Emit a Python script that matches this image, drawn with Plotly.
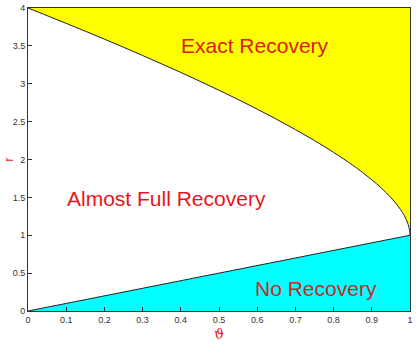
import plotly.graph_objects as go

# Upper boundary (exact recovery threshold)
theta_up = [0.0, 0.05, 0.1, 0.15, 0.2, 0.25, 0.3, 0.35, 0.4, 0.45, 0.5, 0.55, 0.6,
            0.65, 0.7, 0.75, 0.8, 0.85, 0.875, 0.9, 0.925, 0.95, 0.96, 0.97, 0.98,
            0.985, 0.99, 0.995, 0.999, 1.0]
r_up = [4.0, 3.899, 3.797, 3.694, 3.589, 3.482, 3.373, 3.262, 3.149, 3.033, 2.914,
        2.792, 2.665, 2.533, 2.395, 2.250, 2.094, 1.925, 1.832, 1.732, 1.623, 1.497,
        1.440, 1.376, 1.303, 1.262, 1.210, 1.146, 1.064, 1.0]
# Lower boundary (no recovery threshold)
theta_low = [0.0, 1.0]
r_low = [0.0, 1.0]

x_ticks = [0, 0.1, 0.2, 0.3, 0.4, 0.5, 0.6, 0.7, 0.8, 0.9, 1]
y_ticks = [0, 0.5, 1, 1.5, 2, 2.5, 3, 3.5, 4]

labels = ["Exact Recovery", "Almost Full Recovery", "No Recovery"]
label_x = [0.595, 0.362, 0.755]
label_y = [3.51, 1.49, 0.30]
label_colors = ["#d8200e", "#e8141c", "#c42828"]

red = "#e41a1c"

fig = go.Figure()
fig.add_trace(go.Scatter(
    x=theta_up + [1.0, 0.0], y=r_up + [4.0, 4.0],
    fill="toself", fillcolor="#ffff00", mode="none", hoverinfo="skip"))
fig.add_trace(go.Scatter(
    x=theta_low + [1.0], y=r_low + [0.0],
    fill="toself", fillcolor="#00ffff", mode="none", hoverinfo="skip"))
fig.add_trace(go.Scatter(
    x=theta_up, y=r_up, mode="lines", line=dict(color="#222", width=1, shape="spline"),
    hoverinfo="skip"))
fig.add_trace(go.Scatter(
    x=theta_low, y=r_low, mode="lines", line=dict(color="#222", width=1),
    hoverinfo="skip"))

for t, xx, yy, c in zip(labels, label_x, label_y, label_colors):
    fig.add_annotation(x=xx, y=yy, text=t, showarrow=False,
                       font=dict(family="Liberation Sans, Arial", size=21, color=c))

fig.add_annotation(xref="paper", yref="paper", x=0.5, y=-0.076, yanchor="middle",
                   text="ϑ", showarrow=False,
                   font=dict(family="DejaVu Serif", size=14, color=red))
fig.add_annotation(xref="paper", yref="paper", x=-0.052, y=0.5, textangle=-90,
                   xanchor="center", yanchor="middle",
                   text="r", showarrow=False,
                   font=dict(family="Liberation Sans", size=13, color=red))

axis_common = dict(showgrid=False, zeroline=False, ticks="inside", ticklen=4,
                   tickcolor="#333", showline=True, linecolor="#333", linewidth=1,
                   mirror=True, tickfont=dict(family="Liberation Sans, Arial", size=9, color="#333"))
fig.update_xaxes(range=[0, 1], tickvals=x_ticks, ticktext=[str(v) for v in x_ticks], **axis_common)
fig.update_yaxes(range=[0, 4], tickvals=y_ticks, ticktext=[str(v) for v in y_ticks], **axis_common)

fig.update_layout(width=416, height=344, showlegend=False,
                  margin=dict(l=28, r=3, t=8, b=33),
                  plot_bgcolor="white", paper_bgcolor="white")
fig.write_html("out.html")
